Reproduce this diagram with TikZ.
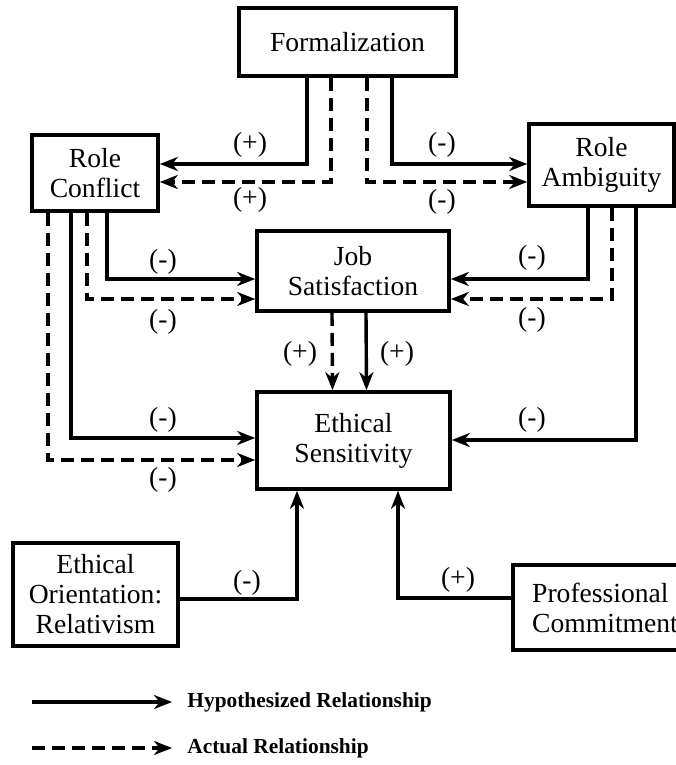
\documentclass[tikz,border=0pt]{standalone}
\usepackage{fontspec}
\setmainfont{Liberation Serif}
\usetikzlibrary{arrows.meta, positioning, calc}

\begin{document}
\begin{tikzpicture}[
    x=0.5pt, y=-0.5pt,
    box/.style={draw, line width=1.8pt, rectangle, align=center, inner sep=0pt, font=\fontsize{13.8}{15}\selectfont},
    hyp/.style={->, line width=1.7pt},
    act/.style={->, line width=1.7pt, dash pattern=on 6.5pt off 3.5pt},
    sign/.style={inner sep=0pt, font=\fontsize{13.8}{15}\selectfont},
    legend/.style={inner sep=0pt, font=\fontsize{10.7}{12}\selectfont\bfseries},
    >={Stealth[length=9pt, width=7pt, inset=2.8pt]},
]
    \useasboundingbox (0,0) rectangle (675,765);

    % constructs
    \node[box, minimum width=108.5pt, minimum height=34pt]   (form) at (347.5,42)   {Formalization};
    \node[box, minimum width=63pt,    minimum height=38pt]   (rc)   at (95,173)     {Role\\Conflict};
    \node[box, minimum width=72.5pt,  minimum height=41pt]   (ra)   at (601.5,165)  {Role\\Ambiguity};
    \node[box, minimum width=96pt,    minimum height=40pt]   (js)   at (353,271)    {Job\\Satisfaction};
    \node[box, minimum width=96.5pt,  minimum height=48.5pt] (es)   at (353.5,440.5){Ethical\\Sensitivity};
    \node[box, minimum width=82.5pt,  minimum height=51.5pt] (eo)   at (95.5,594.5) {Ethical\\Orientation:\\Relativism};
    \node[box, minimum width=92pt,    minimum height=42.5pt, align=left] (pc) at (605,607.5) {Professional\\Commitment};

    % formalization
    \draw[hyp] ($(form.south)+(-40.5,0)$) |- ($(rc.east)+(0,-9)$);
    \draw[act] ($(form.south)+(-16.5,0)$) |- ($(rc.east)+(0,9)$);
    \draw[hyp] ($(form.south)+(44.5,0)$)  |- ($(ra.west)+(0,-1)$);
    \draw[act] ($(form.south)+(19.5,0)$)  |- ($(ra.west)+(0,17)$);

    % role conflict
    \draw[hyp] ($(rc.south)+(12,0)$)  |- ($(js.west)+(0,8)$);
    \draw[act] ($(rc.south)+(-8,0)$)  |- ($(js.west)+(0,28)$);
    \draw[hyp] ($(rc.south)+(-24,0)$) |- ($(es.west)+(0,-2.5)$);
    \draw[act] ($(rc.south)+(-47,0)$) |- ($(es.west)+(0,19.5)$);

    % role ambiguity
    \draw[hyp] ($(ra.south)+(-13.5,0)$) |- ($(js.east)+(0,8)$);
    \draw[act] ($(ra.south)+(10.5,0)$)  |- ($(js.east)+(0,28)$);
    \draw[hyp] ($(ra.south)+(34.5,0)$)  |- ($(es.east)+(0,-0.5)$);

    % job satisfaction
    \draw[act] ($(js.south)+(-21,0)$) -- ($(es.north)+(-21,0)$);
    \draw[hyp] ($(js.south)+(13,0)$)  -- ($(es.north)+(13,0)$);

    % lower constructs
    \draw[hyp] ($(eo.east)+(0,4.5)$)  -| ($(es.south)+(-56.5,0)$);
    \draw[hyp] ($(pc.west)+(0,-9.5)$) -| ($(es.south)+(44.5,0)$);

    % signs
    \node[sign] (s1)  at (250,145) {(+)};
    \node[sign] (s2)  at (250,200) {(+)};
    \node[sign] (s3)  at (442,145) {(-)};
    \node[sign] (s4)  at (442,202) {(-)};
    \node[sign] (s5)  at (163,262) {(-)};
    \node[sign] (s6)  at (163,322) {(-)};
    \node[sign] (s7)  at (163,420) {(-)};
    \node[sign] (s8)  at (163,480) {(-)};
    \node[sign] (s9)  at (532,258) {(-)};
    \node[sign] (s10) at (532,320) {(-)};
    \node[sign] (s11) at (532,420) {(-)};
    \node[sign] (s12) at (300,354) {(+)};
    \node[sign] (s13) at (397,354) {(+)};
    \node[sign] (s14) at (247,583) {(-)};
    \node[sign] (s15) at (458,580) {(+)};

    % legend
    \coordinate (hypA) at (32,702);
    \coordinate (actA) at (32,748);
    \node[legend, anchor=west] (hypT) at (187,702) {Hypothesized Relationship};
    \node[legend, anchor=west] (actT) at (187,748) {Actual Relationship};
    \draw[hyp] (hypA) -- ($(hypT.west)+(-15,0)$);
    \draw[act] (actA) -- ($(actT.west)+(-15,0)$);
\end{tikzpicture}
\end{document}
